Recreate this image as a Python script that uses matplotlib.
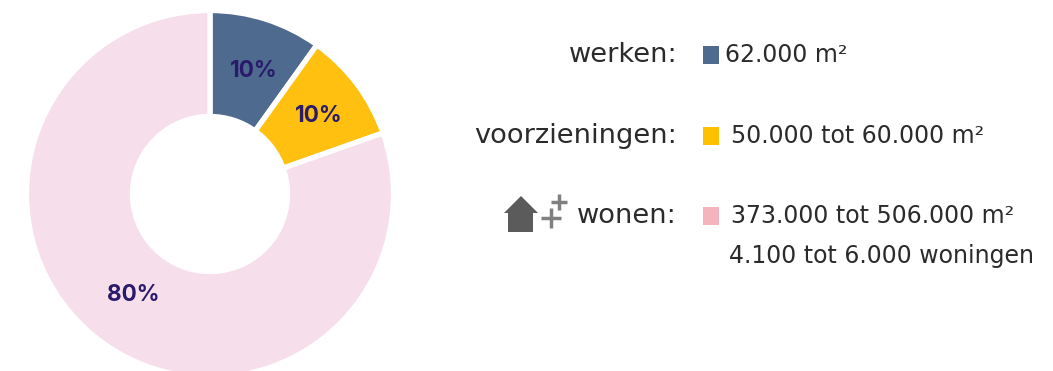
import matplotlib
matplotlib.use("Agg")
import matplotlib.pyplot as plt
from matplotlib.patches import Polygon, Rectangle

shares = [9.9, 9.7, 80.4]
share_labels = ["10%", "10%", "80%"]
colors = ["#4f6a8f", "#ffc010", "#f6deeb"]
names = ["werken:", "voorzieningen:", "wonen:"]
amounts = ["62.000 m²", "50.000 tot 60.000 m²", "373.000 tot 506.000 m²"]
extra_line = "4.100 tot 6.000 woningen"
swatches = ["#4f6a8f", "#ffc000", "#f4b3bd"]

W, H = 1053, 371
plt.rcParams["font.family"] = ["DejaVu Sans"]
fig = plt.figure(figsize=(W / 100, H / 100), dpi=100)
ax = fig.add_axes([0, 0, 1, 1])
Y = lambda y: H - y

ax.pie(shares, colors=colors, startangle=90, counterclock=False,
       center=(210, Y(194)), radius=183.5, frame=True,
       wedgeprops=dict(width=106, edgecolor="white", linewidth=3.8))
ax.set_xlim(0, W)
ax.set_ylim(0, H)
ax.set_aspect("auto")
ax.axis("off")

label_pos = [(254, 71), (319, 116), (133, 295)]
for s, (x, y) in zip(share_labels, label_pos):
    ax.text(x, Y(y), s, ha="center", va="center", fontsize=16.2,
            fontweight="bold", color="#2a1a6b", family="Inter")

txt = "#2b2b2b"
rows = [55, 136, 216]
text_x = [725, 731, 731]
for name, amount, sw, y, tx in zip(names, amounts, swatches, rows, text_x):
    ax.text(677, Y(y), name, ha="right", va="center", fontsize=19.6, color=txt)
    ax.add_patch(Rectangle((703, Y(y + 9)), 16, 18, fc=sw, ec="none"))
    ax.text(tx, Y(y), amount, ha="left", va="center", fontsize=17, color=txt)
ax.text(729, Y(256), extra_line, ha="left", va="center", fontsize=17, color=txt)

# house + plus icon
icon = "#5b5b5b"
house = [(504, 213), (521, 196), (538, 213), (533, 213), (533, 232), (508, 232), (508, 213)]
ax.add_patch(Polygon([(x, Y(y)) for x, y in house], closed=True, fc=icon, ec="none"))
for cx, cy, r in [(551, 218, 10), (559, 202, 8)]:
    ax.plot([cx - r, cx + r], [Y(cy), Y(cy)], color="#808080", lw=2.5, solid_capstyle="butt")
    ax.plot([cx, cx], [Y(cy - r), Y(cy + r)], color="#808080", lw=2.5, solid_capstyle="butt")

fig.savefig("out.png", dpi=100, facecolor="white")
